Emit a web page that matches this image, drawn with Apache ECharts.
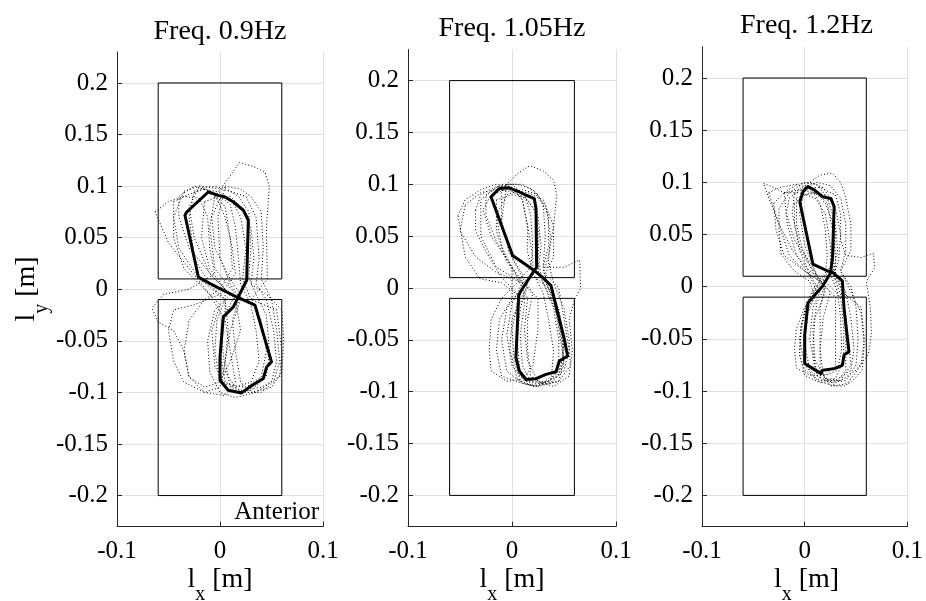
<!DOCTYPE html>
<html><head><meta charset="utf-8">
<script src="https://cdn.jsdelivr.net/npm/echarts@6/dist/echarts.min.js"></script>
<style>html,body{margin:0;padding:0;background:#fff}#c{width:926px;height:601px}</style>
</head><body><div id="c"></div>
<script>
// ---------------- data ----------------
const titles = ['Freq. 0.9Hz', 'Freq. 1.05Hz', 'Freq. 1.2Hz'];
const yTicks = [-0.2, -0.15, -0.1, -0.05, 0, 0.05, 0.1, 0.15, 0.2];
const xRange = [-0.1, 0.1];
const xStep = 0.1;
const yRange = [-0.23, 0.23];
const plateUpper = [[-0.06, 0.01], [0.06, 0.01], [0.06, 0.2], [-0.06, 0.2], [-0.06, 0.01]];
const plateLower = [[-0.06, -0.2], [0.06, -0.2], [0.06, -0.01], [-0.06, -0.01], [-0.06, -0.2]];
const annotation = 'Anterior';

const mean09 = [[-0.0114,0.0943],[-0.0323,0.0749],[-0.034,0.0717],[-0.021,0.0119],[-0.0097,0.0055],[0.0162,-0.0075],[0.034,-0.0155],[0.05,-0.0704],[0.0453,-0.0753],[0.042,-0.0866],[0.029,-0.0946],[0.021,-0.1005],[0.008,-0.0979],[0.0,-0.0882],[0.0,-0.0656],[0.0032,-0.0268],[0.013,-0.0171],[0.0178,-0.0074],[0.0259,0.0087],[0.0275,0.0669],[0.0227,0.0766],[0.013,0.0846],[0.0049,0.0894],[-0.0016,0.091],[-0.0114,0.0943]];
const mean105 = [[-0.0202,0.0879],[-0.0122,0.0959],[-0.0026,0.0966],[0.0054,0.0933],[0.0135,0.0895],[0.0214,0.0862],[0.0231,0.0766],[0.0237,0.020],[0.0198,0.0145],[0.0087,-0.0026],[0.0064,-0.0074],[0.0038,-0.0672],[0.007,-0.080],[0.0135,-0.0882],[0.0231,-0.0875],[0.0327,-0.0833],[0.0423,-0.0807],[0.0455,-0.0704],[0.0535,-0.0656],[0.0503,-0.0494],[0.0375,0.0023],[0.0294,0.0103],[0.0214,0.0168],[0.0006,0.0313],[-0.0202,0.0879]];
const mean12 = [[-0.0048,0.0814],[-0.0016,0.0911],[0.0032,0.0959],[0.0096,0.0926],[0.0175,0.0862],[0.0255,0.0846],[0.0287,0.0766],[0.0271,0.0281],[0.0255,0.0152],[0.0367,0.0055],[0.0383,-0.0203],[0.0431,-0.0623],[0.0383,-0.0655],[0.0367,-0.0753],[0.0287,-0.0785],[0.0175,-0.0801],[0.0159,-0.0833],[0.008,-0.0785],[0.0,-0.0736],[0.0,-0.0462],[0.0032,-0.0155],[0.0175,0.0006],[0.0255,0.0136],[0.008,0.0216],[-0.0048,0.0814]];

const trials09 = [
 [[-0.045,0.085],[-0.03,0.092],[-0.015,0.097],[0.0,0.094],[0.012,0.085],[0.02,0.07],[0.025,0.04],[0.022,0.01],[0.03,-0.01],[0.04,-0.03],[0.045,-0.06],[0.04,-0.085],[0.025,-0.095],[0.005,-0.092],[-0.005,-0.075],[-0.008,-0.04],[0.0,-0.015],[-0.015,0.0],[-0.035,0.02],[-0.045,0.05],[-0.045,0.085]],
 [[-0.005,0.09],[0.01,0.11],[0.019,0.123],[0.035,0.118],[0.044,0.113],[0.048,0.099],[0.045,0.06],[0.046,0.01],[0.03,-0.01],[0.055,-0.02],[0.06,-0.06],[0.058,-0.085],[0.04,-0.095],[0.02,-0.098],[0.005,-0.09],[0.0,-0.06],[0.002,-0.03],[0.015,-0.005],[-0.005,0.02],[-0.01,0.06],[-0.005,0.09]],
 [[-0.063,0.075],[-0.05,0.085],[-0.035,0.09],[-0.02,0.088],[-0.012,0.07],[-0.01,0.04],[-0.005,0.015],[-0.03,0.0],[-0.055,-0.005],[-0.066,-0.018],[-0.06,-0.032],[-0.045,-0.04],[-0.035,-0.06],[-0.03,-0.085],[-0.015,-0.1],[0.005,-0.103],[0.015,-0.09],[0.01,-0.06],[0.005,-0.03],[-0.01,-0.005],[-0.03,0.02],[-0.05,0.045],[-0.063,0.075]],
 [[-0.02,0.1],[-0.005,0.098],[0.01,0.095],[0.025,0.09],[0.035,0.07],[0.038,0.03],[0.035,0.005],[0.045,-0.01],[0.052,-0.04],[0.055,-0.07],[0.05,-0.09],[0.035,-0.1],[0.015,-0.105],[0.0,-0.1],[-0.01,-0.08],[-0.012,-0.05],[-0.005,-0.02],[0.01,-0.005],[-0.01,0.015],[-0.025,0.05],[-0.03,0.08],[-0.02,0.1]],
 [[0.0,0.088],[0.01,0.09],[0.02,0.08],[0.03,0.06],[0.033,0.03],[0.03,0.005],[0.045,-0.005],[0.06,-0.02],[0.062,-0.05],[0.06,-0.08],[0.05,-0.095],[0.03,-0.1],[0.02,-0.09],[0.015,-0.06],[0.012,-0.03],[0.02,-0.005],[0.01,0.01],[-0.005,0.04],[-0.008,0.07],[0.0,0.088]],
 [[-0.035,0.095],[-0.02,0.1],[-0.005,0.092],[0.005,0.07],[0.012,0.04],[0.015,0.015],[0.0,-0.005],[-0.025,-0.015],[-0.045,-0.02],[-0.05,-0.04],[-0.045,-0.07],[-0.035,-0.09],[-0.015,-0.1],[0.0,-0.095],[0.005,-0.07],[0.008,-0.04],[0.005,-0.01],[-0.02,0.01],[-0.04,0.04],[-0.045,0.07],[-0.035,0.095]],
 [[-0.025,0.095],[-0.01,0.1],[0.005,0.098],[0.018,0.09],[0.028,0.075],[0.03,0.04],[0.028,0.012],[0.035,-0.005],[0.045,-0.025],[0.048,-0.06],[0.045,-0.085],[0.03,-0.098],[0.012,-0.1],[0.0,-0.09],[-0.005,-0.06],[-0.003,-0.03],[0.005,-0.01],[-0.01,0.005],[-0.025,0.03],[-0.03,0.07],[-0.025,0.095]],
 [[-0.015,0.085],[0.0,0.09],[0.01,0.082],[0.015,0.06],[0.018,0.03],[0.02,0.005],[0.03,-0.015],[0.035,-0.04],[0.038,-0.07],[0.03,-0.09],[0.015,-0.095],[0.005,-0.08],[0.002,-0.05],[0.005,-0.02],[0.005,0.0],[-0.01,0.02],[-0.018,0.05],[-0.015,0.085]],
 [[-0.04,0.09],[-0.025,0.1],[-0.01,0.095],[0.005,0.08],[0.01,0.05],[0.012,0.02],[0.0,0.0],[-0.015,-0.01],[-0.03,-0.03],[-0.035,-0.06],[-0.03,-0.085],[-0.015,-0.095],[0.0,-0.09],[0.01,-0.07],[0.02,-0.04],[0.015,-0.01],[-0.005,0.01],[-0.03,0.04],[-0.04,0.07],[-0.04,0.09]],
 [[0.005,0.1],[0.02,0.097],[0.03,0.09],[0.04,0.075],[0.042,0.04],[0.04,0.01],[0.05,-0.01],[0.055,-0.04],[0.058,-0.07],[0.052,-0.09],[0.04,-0.1],[0.025,-0.1],[0.01,-0.095],[0.005,-0.07],[0.01,-0.04],[0.02,-0.01],[0.01,0.005],[0.0,0.03],[-0.002,0.07],[0.005,0.1]]
];
const trials105 = [
 [[-0.01,0.095],[0.005,0.11],[0.017,0.118],[0.03,0.113],[0.04,0.104],[0.043,0.09],[0.04,0.06],[0.035,0.03],[0.03,0.015],[0.045,0.0],[0.05,-0.03],[0.055,-0.06],[0.05,-0.08],[0.035,-0.09],[0.02,-0.093],[0.008,-0.085],[0.005,-0.05],[0.008,-0.02],[0.015,0.005],[0.0,0.03],[-0.01,0.06],[-0.01,0.095]],
 [[-0.045,0.08],[-0.03,0.092],[-0.015,0.095],[0.0,0.093],[0.015,0.085],[0.025,0.07],[0.028,0.04],[0.025,0.015],[0.035,-0.005],[0.045,-0.03],[0.05,-0.06],[0.045,-0.085],[0.03,-0.092],[0.012,-0.09],[0.0,-0.075],[-0.005,-0.045],[0.0,-0.015],[0.01,0.005],[-0.015,0.015],[-0.035,0.03],[-0.05,0.055],[-0.045,0.08]],
 [[-0.005,0.09],[0.01,0.095],[0.025,0.09],[0.035,0.07],[0.035,0.04],[0.03,0.02],[0.05,0.02],[0.065,0.027],[0.066,0.0],[0.06,-0.012],[0.055,-0.03],[0.058,-0.06],[0.055,-0.085],[0.04,-0.095],[0.025,-0.09],[0.015,-0.07],[0.012,-0.04],[0.015,-0.01],[0.005,0.01],[-0.01,0.04],[-0.015,0.07],[-0.005,0.09]],
 [[-0.03,0.085],[-0.015,0.097],[0.0,0.1],[0.012,0.09],[0.018,0.07],[0.02,0.04],[0.018,0.02],[0.005,0.005],[-0.01,-0.01],[-0.02,-0.03],[-0.022,-0.06],[-0.02,-0.08],[-0.005,-0.09],[0.01,-0.088],[0.02,-0.075],[0.025,-0.04],[0.025,-0.01],[0.01,0.005],[-0.015,0.02],[-0.03,0.05],[-0.03,0.085]],
 [[-0.052,0.07],[-0.045,0.085],[-0.03,0.095],[-0.015,0.1],[0.0,0.097],[0.01,0.085],[0.015,0.06],[0.02,0.03],[0.02,0.012],[0.035,0.0],[0.045,-0.02],[0.05,-0.05],[0.048,-0.075],[0.035,-0.09],[0.02,-0.095],[0.005,-0.088],[-0.002,-0.06],[0.0,-0.03],[0.01,-0.01],[-0.01,0.005],[-0.031,0.009],[-0.045,0.03],[-0.052,0.07]],
 [[-0.02,0.09],[-0.005,0.095],[0.015,0.092],[0.03,0.085],[0.04,0.06],[0.04,0.03],[0.03,0.01],[0.04,-0.01],[0.045,-0.04],[0.05,-0.07],[0.045,-0.09],[0.025,-0.095],[0.01,-0.092],[-0.01,-0.085],[-0.015,-0.06],[-0.012,-0.03],[0.0,-0.01],[0.0,0.02],[-0.02,0.05],[-0.028,0.075],[-0.02,0.09]],
 [[-0.025,0.09],[-0.01,0.1],[0.005,0.1],[0.02,0.095],[0.03,0.08],[0.032,0.05],[0.03,0.02],[0.035,0.0],[0.042,-0.02],[0.048,-0.05],[0.05,-0.075],[0.04,-0.09],[0.022,-0.095],[0.008,-0.09],[0.002,-0.07],[0.0,-0.04],[0.005,-0.015],[0.015,0.0],[0.0,0.02],[-0.015,0.045],[-0.025,0.07],[-0.025,0.09]],
 [[-0.015,0.085],[0.0,0.09],[0.012,0.088],[0.022,0.075],[0.026,0.05],[0.025,0.025],[0.03,0.005],[0.04,-0.02],[0.045,-0.05],[0.045,-0.08],[0.035,-0.09],[0.018,-0.09],[0.01,-0.075],[0.008,-0.045],[0.012,-0.015],[0.01,0.005],[-0.005,0.025],[-0.015,0.055],[-0.015,0.085]],
 [[-0.035,0.075],[-0.03,0.09],[-0.015,0.098],[0.0,0.097],[0.01,0.085],[0.015,0.06],[0.015,0.035],[0.02,0.015],[0.03,-0.005],[0.035,-0.03],[0.04,-0.06],[0.038,-0.085],[0.025,-0.095],[0.01,-0.092],[-0.005,-0.08],[-0.01,-0.05],[-0.005,-0.02],[0.005,-0.005],[-0.01,0.01],[-0.025,0.035],[-0.035,0.055],[-0.035,0.075]],
 [[-0.005,0.1],[0.01,0.1],[0.022,0.093],[0.033,0.078],[0.037,0.05],[0.035,0.025],[0.04,0.005],[0.05,-0.02],[0.055,-0.05],[0.056,-0.075],[0.045,-0.09],[0.03,-0.093],[0.018,-0.085],[0.015,-0.06],[0.015,-0.03],[0.02,-0.005],[0.01,0.01],[-0.003,0.035],[-0.01,0.065],[-0.005,0.1]]
];
const trials12 = [
 [[-0.04,0.099],[-0.03,0.095],[-0.02,0.09],[-0.005,0.09],[0.01,0.085],[0.02,0.07],[0.025,0.04],[0.025,0.02],[0.02,0.01],[0.01,-0.005],[0.0,-0.02],[-0.008,-0.04],[-0.01,-0.06],[-0.008,-0.078],[0.005,-0.085],[0.02,-0.085],[0.03,-0.075],[0.03,-0.04],[0.03,-0.01],[0.015,0.005],[0.0,0.015],[-0.015,0.03],[-0.025,0.06],[-0.035,0.085],[-0.04,0.099]],
 [[-0.01,0.09],[0.005,0.1],[0.015,0.107],[0.027,0.109],[0.035,0.1],[0.04,0.085],[0.045,0.06],[0.045,0.035],[0.035,0.015],[0.045,0.0],[0.05,-0.02],[0.052,-0.05],[0.05,-0.075],[0.04,-0.09],[0.025,-0.092],[0.012,-0.085],[0.008,-0.06],[0.01,-0.03],[0.02,-0.005],[0.01,0.015],[-0.005,0.04],[-0.012,0.07],[-0.01,0.09]],
 [[-0.015,0.085],[0.0,0.095],[0.015,0.095],[0.03,0.088],[0.035,0.07],[0.035,0.045],[0.04,0.03],[0.055,0.028],[0.067,0.032],[0.068,0.018],[0.06,0.005],[0.064,-0.02],[0.065,-0.045],[0.062,-0.065],[0.05,-0.08],[0.035,-0.09],[0.02,-0.088],[0.01,-0.07],[0.008,-0.04],[0.012,-0.015],[0.02,0.0],[0.005,0.02],[-0.01,0.045],[-0.018,0.07],[-0.015,0.085]],
 [[-0.03,0.08],[-0.02,0.09],[-0.005,0.093],[0.01,0.09],[0.02,0.08],[0.028,0.06],[0.03,0.03],[0.03,0.012],[0.04,-0.005],[0.045,-0.03],[0.048,-0.06],[0.045,-0.08],[0.03,-0.09],[0.015,-0.092],[0.0,-0.085],[-0.005,-0.065],[-0.003,-0.035],[0.005,-0.01],[0.015,0.005],[0.0,0.015],[-0.02,0.03],[-0.028,0.055],[-0.03,0.08]],
 [[-0.023,0.031],[-0.025,0.055],[-0.025,0.075],[-0.015,0.09],[0.0,0.1],[0.012,0.098],[0.022,0.085],[0.03,0.06],[0.032,0.035],[0.028,0.015],[0.035,0.0],[0.038,-0.02],[0.04,-0.05],[0.04,-0.08],[0.028,-0.095],[0.012,-0.09],[0.0,-0.075],[-0.005,-0.05],[0.0,-0.025],[0.01,-0.01],[0.005,0.005],[-0.01,0.015],[-0.023,0.031]],
 [[-0.008,0.085],[0.005,0.09],[0.02,0.088],[0.03,0.075],[0.035,0.05],[0.033,0.025],[0.028,0.01],[0.04,-0.008],[0.055,-0.02],[0.058,-0.05],[0.055,-0.075],[0.04,-0.095],[0.025,-0.095],[0.015,-0.08],[0.015,-0.05],[0.015,-0.02],[0.02,0.0],[0.01,0.01],[-0.002,0.035],[-0.008,0.06],[-0.008,0.085]],
 [[-0.02,0.09],[-0.008,0.098],[0.005,0.1],[0.018,0.095],[0.028,0.08],[0.03,0.05],[0.028,0.025],[0.03,0.005],[0.038,-0.015],[0.042,-0.045],[0.045,-0.075],[0.035,-0.09],[0.018,-0.09],[0.005,-0.08],[0.0,-0.055],[0.003,-0.025],[0.012,-0.005],[0.005,0.01],[-0.008,0.03],[-0.017,0.06],[-0.02,0.09]],
 [[-0.01,0.08],[0.0,0.088],[0.012,0.09],[0.022,0.08],[0.027,0.055],[0.027,0.03],[0.025,0.012],[0.032,-0.005],[0.035,-0.03],[0.036,-0.06],[0.032,-0.08],[0.02,-0.085],[0.01,-0.078],[0.005,-0.05],[0.008,-0.02],[0.015,-0.005],[0.005,0.012],[-0.005,0.035],[-0.01,0.06],[-0.01,0.08]],
 [[-0.035,0.09],[-0.025,0.095],[-0.01,0.098],[0.005,0.095],[0.015,0.08],[0.02,0.055],[0.022,0.03],[0.02,0.012],[0.01,0.0],[0.002,-0.015],[-0.004,-0.04],[-0.005,-0.065],[0.0,-0.08],[0.015,-0.09],[0.03,-0.088],[0.038,-0.07],[0.038,-0.04],[0.035,-0.01],[0.02,0.005],[0.005,0.015],[-0.012,0.035],[-0.025,0.06],[-0.035,0.09]],
 [[0.0,0.095],[0.012,0.1],[0.025,0.097],[0.035,0.085],[0.04,0.06],[0.04,0.035],[0.035,0.015],[0.045,-0.005],[0.055,-0.025],[0.058,-0.055],[0.056,-0.08],[0.045,-0.092],[0.03,-0.095],[0.018,-0.085],[0.015,-0.06],[0.018,-0.03],[0.025,-0.005],[0.012,0.01],[0.0,0.04],[-0.005,0.07],[0.0,0.095]]
];

// ---------------- layout / style ----------------
const means = [mean09, mean105, mean12];
const trials = [trials09, trials105, trials12];
const grids = [
  {left: 117, top: 52, width: 206, height: 474.5},
  {left: 408, top: 49.5, width: 208, height: 477},
  {left: 702, top: 46.7, width: 209, height: 480}
];
const titleY = [32, 29, 26];
const FONT = '"Liberation Serif", "Times New Roman", serif';
const AX = '#262626';
const richLabel = {
  b: {fontFamily: FONT, fontSize: 20, lineHeight: 18, verticalAlign: 'bottom', fill: '#000'},
  s: {fontFamily: FONT, fontSize: 28, lineHeight: 39, verticalAlign: 'top', fill: '#000'}
};

const xAxes = [], yAxes = [], series = [], graphics = [];
grids.forEach((g, i) => {
  xAxes.push({
    type: 'value', gridIndex: i, min: xRange[0], max: xRange[1], interval: xStep,
    axisLine: {show: true, onZero: false, lineStyle: {color: AX, width: 1}},
    axisTick: {show: true, inside: true, length: 5, lineStyle: {color: AX}},
    axisLabel: {fontFamily: FONT, fontSize: 25, color: '#000', margin: 12},
    splitLine: {show: true, lineStyle: {color: '#e0e0e0', width: 1}}
  });
  yAxes.push({
    type: 'value', gridIndex: i, min: yRange[0], max: yRange[1],
    axisLine: {show: true, onZero: false, lineStyle: {color: AX, width: 1}},
    axisTick: {show: true, inside: true, length: 5, lineStyle: {color: AX}, customValues: yTicks},
    axisLabel: {fontFamily: FONT, fontSize: 25, color: '#000', margin: 9, customValues: yTicks},
    splitLine: {show: true, lineStyle: {color: '#e0e0e0', width: 1}}
  });
  [plateUpper, plateLower].forEach(p => series.push({
    type: 'line', xAxisIndex: i, yAxisIndex: i, data: p, symbol: 'none', silent: true,
    lineStyle: {color: '#000', width: 1}, z: 2
  }));
  trials[i].forEach(t => series.push({
    type: 'line', xAxisIndex: i, yAxisIndex: i, data: t, symbol: 'none', silent: true,
    lineStyle: {color: '#000', width: 1, type: [1, 2.2]}, z: 3
  }));
  series.push({
    type: 'line', xAxisIndex: i, yAxisIndex: i, data: means[i], symbol: 'none', silent: true,
    lineStyle: {color: '#000', width: 3, join: 'round', cap: 'round'}, z: 4
  });
  const cx = g.left + g.width / 2;
  graphics.push({
    type: 'text', x: cx, y: titleY[i],
    style: {text: titles[i], font: '28px ' + FONT, fill: '#000', align: 'center', verticalAlign: 'middle'}
  });
  graphics.push({
    type: 'text', x: cx, y: 585,
    style: {text: '{s|l}{b|x}{s| [m]}', align: 'center', verticalAlign: 'middle', rich: richLabel}
  });
});
graphics.push({
  type: 'text', x: 32, y: 289, rotation: Math.PI / 2,
  style: {text: '{s|l}{b|y}{s| [m]}', align: 'center', verticalAlign: 'middle', rich: richLabel}
});
graphics.push({
  type: 'text', x: 319, y: 512,
  style: {text: annotation, font: '25px ' + FONT, fill: '#000', align: 'right', verticalAlign: 'middle'}
});

const chart = echarts.init(document.getElementById('c'), null, {renderer: 'canvas'});
chart.setOption({
  animation: false,
  backgroundColor: '#fff',
  grid: grids,
  xAxis: xAxes,
  yAxis: yAxes,
  series: series,
  graphic: graphics
});
</script>
</body></html>
